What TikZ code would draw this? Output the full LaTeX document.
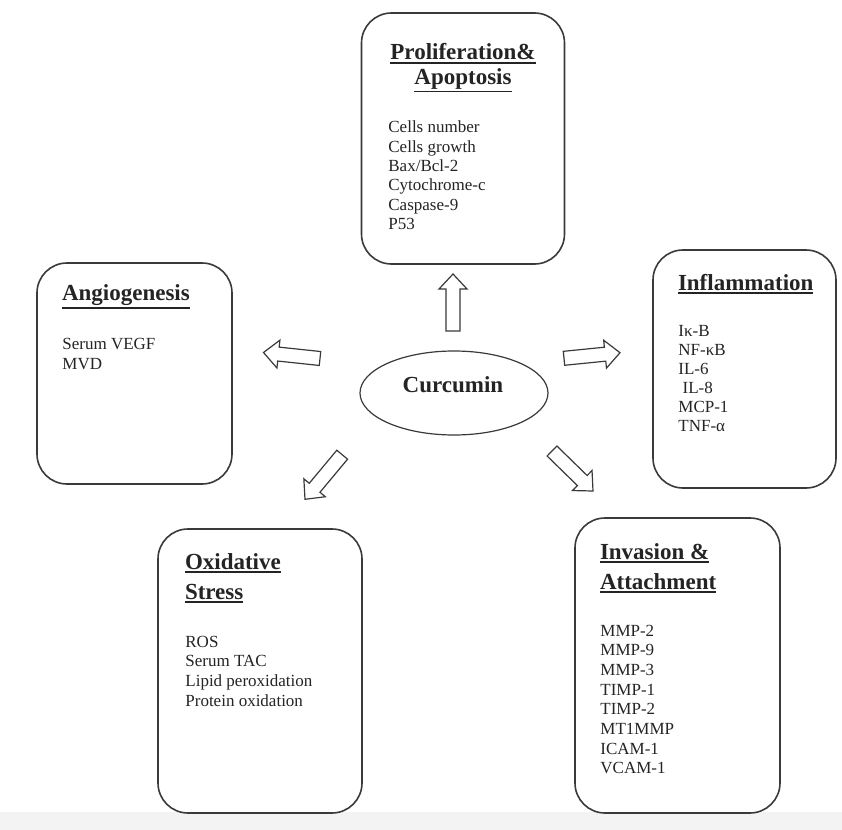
\documentclass[tikz,border=0pt]{standalone}
\usepackage{fontspec}
\setmainfont{Liberation Serif}
\usetikzlibrary{calc,shapes.geometric}
\definecolor{ink}{HTML}{242424}
\definecolor{edge}{HTML}{3A3A3A}
\definecolor{band}{HTML}{F3F3F3}
\tikzset{
 box/.style={draw=edge, line width=0.8pt, rounded corners=15pt, fill=white, inner sep=0pt},
 ttl/.style={font=\fontsize{11.5}{13}\selectfont\bfseries, text=ink, inner sep=0pt, outer sep=0pt, anchor=base west},
 itm/.style={font=\fontsize{8.5}{10}\selectfont, text=ink, inner sep=0pt, anchor=base west},
 blk/.style={draw=edge, line width=0.6pt, fill=white, line join=miter},
 uline/.style={draw=ink, line width=0.9pt},
}
\newcommand\blockarrow[2]{%
 \coordinate (#1h) at ($(#2)!7.5pt!(#1)$);
 \draw[blk] ($(#1)!3.5pt!90:(#2)$) -- ($(#1h)!3.5pt!90:(#2)$) -- ($(#1h)!7pt!90:(#2)$) -- (#2)
   -- ($(#1h)!7pt!-90:(#2)$) -- ($(#1h)!3.5pt!-90:(#2)$) -- ($(#1)!3.5pt!-90:(#2)$) -- cycle;}
\newcommand\ulnode[1]{\draw[uline] ([yshift=-1.3pt]#1.south west) -- ([yshift=-1.3pt]#1.south east);}
\begin{document}
\begin{tikzpicture}[x=0.5pt,y=-0.5pt]
\useasboundingbox (0,0) rectangle (842,830);
\fill[white] (0,0) rectangle (842,830);
\fill[band] (0,812) rectangle (842,830);

% boxes
\node[box, minimum width=101.5pt, minimum height=125.5pt] (prolif) at (463,138.5) {};
\node[box, minimum width=97.5pt, minimum height=110.5pt] (angio) at (134.5,373.5) {};
\node[box, minimum width=91.5pt, minimum height=119pt] (infl) at (744.5,369) {};
\node[box, minimum width=102.5pt, minimum height=147.5pt] (invas) at (677.5,665.5) {};
\node[box, minimum width=102pt, minimum height=142pt] (oxid) at (260,671) {};

% titles
\node[ttl, anchor=base] (t1a) at (463,60) {Proliferation\&}; \ulnode{t1a}
\node[ttl, anchor=base] (t1b) at (463,84) {Apoptosis}; \ulnode{t1b}
\node[ttl] (t2) at (62,300) {Angiogenesis}; \ulnode{t2}
\node[ttl] (t3) at (678,290) {Inflammation}; \ulnode{t3}
\node[ttl] (t4a) at (600,559) {Invasion \&}; \ulnode{t4a}
\node[ttl] (t4b) at (600,589) {Attachment}; \ulnode{t4b}
\node[ttl] (t5a) at (185,569) {Oxidative}; \ulnode{t5a}
\node[ttl] (t5b) at (185,599) {Stress}; \ulnode{t5b}

% items
\foreach \t [count=\i from 0] in {Cells number, Cells growth, Bax/Bcl-2, Cytochrome-c, Caspase-9, P53}
  \node[itm] (pa\i) at (388,{133+19.3*\i}) {\t};
\foreach \t [count=\i from 0] in {Serum VEGF, MVD}
  \node[itm] (an\i) at (62,{349+20*\i}) {\t};
\foreach \t [count=\i from 0] in {Iκ-B, NF-κB, IL-6, {\ IL-8}, MCP-1, TNF-α}
  \node[itm] (in\i) at (678,{336+19*\i}) {\t};
\foreach \t [count=\i from 0] in {MMP-2, MMP-9, MMP-3, TIMP-1, TIMP-2, MT1MMP, ICAM-1, VCAM-1}
  \node[itm] (iv\i) at (600,{636+19.7*\i}) {\t};
\foreach \t [count=\i from 0] in {ROS, Serum TAC, Lipid peroxidation, Protein oxidation}
  \node[itm] (ox\i) at (185,{647+19.7*\i}) {\t};

% centre
\node[ellipse, draw=edge, line width=0.6pt, minimum width=94pt, minimum height=42pt, inner sep=0pt] (cur) at (454,393) {};
\node[ttl, anchor=base] (curtxt) at (453,392) {Curcumin};

% block arrows
\coordinate (upT) at (453,331); \coordinate (upP) at (453,274);
\coordinate (lfT) at (320,358.5); \coordinate (lfP) at (263.5,352.5);
\coordinate (rtT) at (564,358.3); \coordinate (rtP) at (620,352.7);
\coordinate (dlT) at (342.2,454.7); \coordinate (dlP) at (305,499.3);
\coordinate (drT) at (552,451); \coordinate (drP) at (593,491);
\blockarrow{upT}{upP}
\blockarrow{lfT}{lfP}
\blockarrow{rtT}{rtP}
\blockarrow{dlT}{dlP}
\blockarrow{drT}{drP}
\end{tikzpicture}
\end{document}
